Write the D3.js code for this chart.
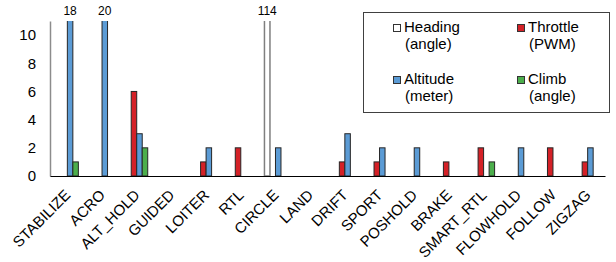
<!DOCTYPE html>
<html>
<head>
<meta charset="utf-8">
<script src="https://cdn.jsdelivr.net/npm/d3@7"></script>
<style>
  body { margin: 0; background: #fff; }
  text { font-family: "Liberation Sans", Arial, sans-serif; fill: #000; }
</style>
</head>
<body>
<div id="chart"></div>
<script>
// Flight modes and the counts for each measured attribute
const modes = ["STABILIZE", "ACRO", "ALT_HOLD", "GUIDED", "LOITER", "RTL", "CIRCLE", "LAND",
  "DRIFT", "SPORT", "POSHOLD", "BRAKE", "SMART_RTL", "FLOWHOLD", "FOLLOW", "ZIGZAG"];
const series = ["Heading", "Throttle", "Altitude", "Climb"];
const seriesUnits = ["(angle)", "(PWM)", "(meter)", "(angle)"];
const heading  = [0, 0, 0, 0, 0, 0, 114, 0, 0, 0, 0, 0, 0, 0, 0, 0];
const throttle = [0, 0, 6, 0, 1, 2, 0, 0, 1, 1, 0, 1, 2, 0, 2, 1];
const altitude = [18, 20, 3, 0, 2, 0, 2, 0, 3, 2, 2, 0, 0, 2, 0, 2];
const climb    = [1, 0, 2, 0, 0, 0, 0, 0, 0, 0, 0, 0, 1, 0, 0, 0];
const yTicks = [0, 2, 4, 6, 8, 10];
const yMax = 11;

const w = 616;
const h = 262;
const plotLeft = 50, plotRight = 605, plotTop = 21, plotBottom = 176;

const colors = { Heading: "#ffffff", Throttle: "#d42127", Altitude: "#5b9bd5", Climb: "#4cae4c" };
const strokes = { Heading: "#7f7f7f", Throttle: "#262626", Altitude: "#262626", Climb: "#262626" };

const values = { Heading: heading, Throttle: throttle, Altitude: altitude, Climb: climb };

const svg = d3.select("#chart")
  .append("svg")
  .attr("width", w)
  .attr("height", h);

// Scales
const xScale = d3.scaleBand()
  .domain(modes)
  .range([plotLeft, plotRight]);

const xInner = d3.scaleBand()
  .domain(series)
  .range([0, xScale.bandwidth()])
  .paddingOuter(1.15);

const yScale = d3.scaleLinear()
  .domain([0, yMax])
  .range([plotBottom, plotTop]);

// Flatten into bars
const bars = [];
modes.forEach((m, i) => {
  series.forEach(s => {
    if (values[s][i] > 0) bars.push({ mode: m, series: s, value: values[s][i] });
  });
});

svg.append("clipPath")
  .attr("id", "plotClip")
  .append("rect")
  .attr("x", plotLeft)
  .attr("y", plotTop)
  .attr("width", plotRight - plotLeft)
  .attr("height", plotBottom - plotTop);

svg.append("g")
  .attr("clip-path", "url(#plotClip)")
  .selectAll("rect")
  .data(bars)
  .enter()
  .append("rect")
  .attr("x", d => xScale(d.mode) + xInner(d.series))
  .attr("y", d => yScale(d.value))
  .attr("width", xInner.bandwidth())
  .attr("height", d => plotBottom - yScale(d.value))
  .style("fill", d => colors[d.series])
  .style("stroke", d => strokes[d.series])
  .style("stroke-width", d => d.series == "Heading" ? 1.5 : 1);

// Labels for bars going past the top
svg.selectAll(".over")
  .data(bars.filter(d => d.value > yMax))
  .enter()
  .append("text")
  .attr("class", "over")
  .attr("x", d => xScale(d.mode) + xInner(d.series) + xInner.bandwidth() / 2)
  .attr("y", 15)
  .attr("text-anchor", "middle")
  .style("font-size", "12px")
  .text(d => d.value);

// Axes
const yAxis = d3.axisLeft(yScale)
  .tickValues(yTicks)
  .tickSize(0)
  .tickPadding(14);

const gy = svg.append("g")
  .attr("transform", "translate(" + plotLeft + ",0)")
  .call(yAxis);
gy.select(".domain").attr("stroke", "#8c8c8c").attr("stroke-width", 1.5);
gy.selectAll("text").style("font-size", "15px").style("font-family", "'Liberation Sans', Arial, sans-serif");

const xAxis = d3.axisBottom(xScale).tickSize(0).tickFormat("");
const gx = svg.append("g")
  .attr("transform", "translate(0," + plotBottom + ")")
  .call(xAxis);
gx.select(".domain").attr("stroke", "#000").attr("stroke-width", 1.2);

// Rotated mode labels
svg.selectAll(".mode")
  .data(modes)
  .enter()
  .append("text")
  .attr("class", "mode")
  .attr("text-anchor", "end")
  .attr("transform", d => "translate(" + (xScale(d) + xScale.bandwidth() / 2 + 4) + "," + 196 + ") rotate(-45)")
  .style("font-size", "15px")
  .text(d => d);

// Legend
const legend = svg.append("g");
legend.append("rect")
  .attr("x", 363.5)
  .attr("y", 12.5)
  .attr("width", 246)
  .attr("height", 100)
  .style("fill", "#fff")
  .style("stroke", "#404040");

const legendPos = [[393, 32], [517, 32], [393, 84], [517, 84]];
series.forEach((s, i) => {
  const [lx, ly] = legendPos[i];
  legend.append("rect")
    .attr("x", lx + 0.5)
    .attr("y", ly - 7.5)
    .attr("width", 7)
    .attr("height", 7)
    .style("fill", colors[s])
    .style("stroke", "#333");
  legend.append("text")
    .attr("x", lx + 11)
    .attr("y", ly)
    .style("font-size", "15px")
    .text(s);
  legend.append("text")
    .attr("x", lx + 12)
    .attr("y", ly + 17)
    .style("font-size", "15px")
    .text(seriesUnits[i]);
});
</script>
</body>
</html>
